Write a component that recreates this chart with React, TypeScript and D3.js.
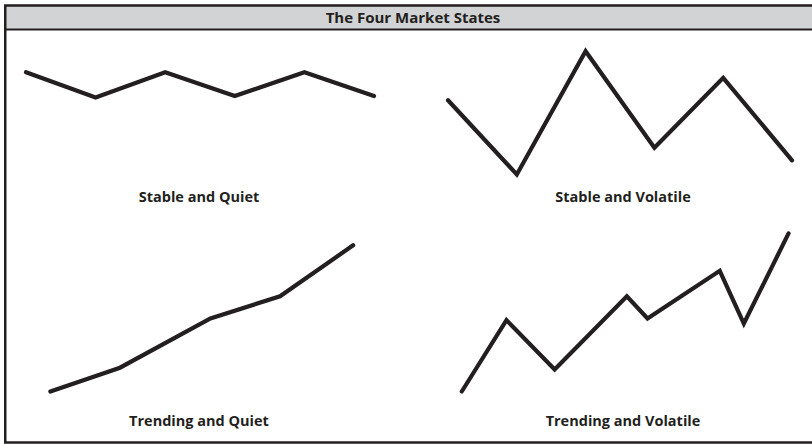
import React, { useEffect, useRef } from 'react';
import * as d3 from 'd3';

const width = 812;
const height = 444;

const chartTitle = 'The Four Market States';

const panelLabels = ['Stable and Quiet', 'Stable and Volatile', 'Trending and Quiet', 'Trending and Volatile'];

// x in "days" (0-10), y in price units (0-100)
const stableQuietX = [0, 2, 4, 6, 8, 10];
const stableQuietY = [77, 59, 77, 60, 77, 60];

const stableVolatileX = [0, 2, 4, 6, 8, 10];
const stableVolatileY = [57, 4, 92, 23, 73, 14];

const trendingQuietX = [0.7, 2.7, 5.3, 7.3, 9.4];
const trendingQuietY = [5, 19, 48, 61, 91];

const trendingVolatileX = [0.4, 1.7, 3.1, 5.2, 5.8, 7.9, 8.6, 9.9];
const trendingVolatileY = [5, 47, 18, 61, 48, 76, 45, 98];

const ink = '#231f20';
const font = '"Open Sans", "DejaVu Sans", sans-serif';

export default function App() {
    const ref = useRef<SVGSVGElement>(null);

    useEffect(() => {
        const svg = d3.select(ref.current);
        svg.selectAll('*').remove();

        // scales: one x per column, one y per row
        const xLeft = d3.scaleLinear().domain([0, 10]).range([26, 374]);
        const xRight = d3.scaleLinear().domain([0, 10]).range([448, 792]);
        const yTop = d3.scaleLinear().domain([0, 100]).range([180, 40]);
        const yBottom = d3.scaleLinear().domain([0, 100]).range([400, 230]);

        const panels = [
            { xs: stableQuietX, ys: stableQuietY, x: xLeft, y: yTop },
            { xs: stableVolatileX, ys: stableVolatileY, x: xRight, y: yTop },
            { xs: trendingQuietX, ys: trendingQuietY, x: xLeft, y: yBottom },
            { xs: trendingVolatileX, ys: trendingVolatileY, x: xRight, y: yBottom },
        ];

        // title bar (right edge of the frame falls just outside the picture)
        svg.append('rect')
            .attr('x', 5).attr('y', 6)
            .attr('width', 820).attr('height', 23)
            .attr('fill', '#d1d3d4');
        svg.append('line')
            .attr('x1', 5).attr('x2', 820)
            .attr('y1', 29.5).attr('y2', 29.5)
            .attr('stroke', ink).attr('stroke-width', 2);
        svg.append('text')
            .attr('x', 413).attr('y', 23)
            .attr('text-anchor', 'middle')
            .attr('font-family', font)
            .attr('font-weight', 'bold')
            .attr('font-size', 15)
            .attr('fill', ink)
            .text(chartTitle);

        // outer frame
        svg.append('rect')
            .attr('x', 5.25).attr('y', 5.5)
            .attr('width', 815).attr('height', 437)
            .attr('fill', 'none')
            .attr('stroke', ink)
            .attr('stroke-width', 2.5);

        panels.forEach((p) => {
            const line = d3.line<number>()
                .x((d, j) => p.x(p.xs[j]))
                .y(d => p.y(d));

            svg.append('path')
                .attr('d', line(p.ys))
                .attr('fill', 'none')
                .attr('stroke', ink)
                .attr('stroke-width', 4.2)
                .attr('stroke-linecap', 'round')
                .attr('stroke-linejoin', 'miter');
        });

        // labels under each panel
        const labelX = [199, 623, 199, 623];
        const labelY = [202, 202, 425.5, 425.5];
        svg.selectAll('text.label')
            .data(panelLabels)
            .enter()
                .append('text')
                .attr('class', 'label')
                .attr('x', (d, i) => labelX[i])
                .attr('y', (d, i) => labelY[i])
                .attr('text-anchor', 'middle')
                .attr('font-family', font)
                .attr('font-weight', 'bold')
                .attr('font-size', 14.5)
                .attr('fill', ink)
                .text(d => d);
    }, []);

    return (
        <svg
            ref={ref}
            width={width}
            height={height}
            style={{ position: 'absolute', left: 0, top: 0, background: '#fff' }}
        />
    );
}
